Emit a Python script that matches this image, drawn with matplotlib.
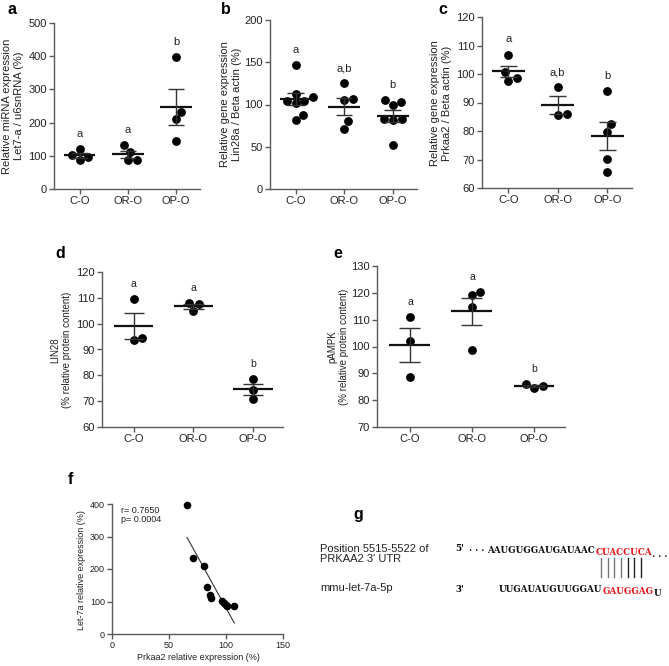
import matplotlib.pyplot as plt
import numpy as np

plt.rcParams['font.family'] = ['Liberation Sans', 'DejaVu Sans']

W, H = 669, 666
groups = ['C-O', 'OR-O', 'OP-O']

# a: Let7-a miRNA (%)
let7_co = [102.6, 120.7, 86.5, 95.6]
let7_or = [112.7, 131.8, 86.5, 86.5]
let7_op = [397.0, 233.0, 210.0, 146.0]
# b: Lin28a mRNA (%)
lin28a_co = [146.7, 113.0, 109.0, 104.5, 102.0, 104.5, 87.6, 81.7]
lin28a_or = [125.0, 106.5, 105.3, 80.5, 70.6]
lin28a_op = [105.3, 100.0, 102.6, 82.4, 81.7, 82.4, 52.0]
# c: Prkaa2 mRNA (%)
prkaa2_co = [106.8, 100.6, 98.5, 97.7]
prkaa2_or = [95.3, 85.7, 86.0]
prkaa2_op = [93.9, 82.5, 79.6, 70.2, 65.7]
# d: LIN28 protein (%)
lin28_co = [109.4, 93.5, 94.3]
lin28_or = [108.0, 107.5, 104.9]
lin28_op = [78.5, 74.5, 71.0]
# e: pAMPK protein (%)
pampk_co = [111.0, 102.0, 88.8]
pampk_or = [119.1, 120.2, 114.8, 98.6]
pampk_op = [86.0, 85.2, 84.6]
# f: correlation
corr_prkaa2 = [65.8, 70.8, 80.4, 83.0, 86.0, 86.5, 96.2, 98.2, 100.0, 101.0, 107.3]
corr_let7 = [397, 233, 209, 145, 119, 112, 102, 95, 89, 87, 85]

SPINE = '#5a5a5a'


def px_axes(fig, x0, y0, x1, y1):
    return fig.add_axes([x0 / W, 1 - y1 / H, (x1 - x0) / W, (y1 - y0) / H])


def style(ax, fs=8):
    for s in ['top', 'right']:
        ax.spines[s].set_visible(False)
    for s in ['left', 'bottom']:
        ax.spines[s].set_color(SPINE)
        ax.spines[s].set_linewidth(1.0)
    ax.tick_params(length=3.5, width=1.0, color=SPINE, labelsize=fs,
                   labelcolor='#222222', pad=1.5)
    ax.set_facecolor('none')


def swarm(ax, i, vals, dot=9.0):
    """greedy beeswarm in pixel space, lowest point first"""
    order = np.argsort(vals)
    pts = ax.transData.transform(np.column_stack([np.full(len(vals), i), vals]))
    placed = []
    offs = np.zeros(len(vals))
    for k in order:
        y = pts[k, 1]
        cands = [0.0]
        for px, py in placed:
            dy = abs(y - py)
            if dy < dot:
                dx = np.sqrt(dot ** 2 - dy ** 2)
                cands += [px - dx, px + dx]
        ok = [c for c in cands
              if all((c - px) ** 2 + (y - py) ** 2 >= dot ** 2 - 1e-6 for px, py in placed)]
        best = min(ok, key=lambda c: (abs(c), -c))
        placed.append((best, y))
        offs[k] = best
    inv = ax.transData.inverted()
    return [inv.transform((pts[0, 0] + d, pts[0, 1]))[0] for d in offs]


def dot_panel(fig, rect, data, ylim, step, letters, fs=8, letter_fs=8):
    ax = px_axes(fig, *rect)
    style(ax, fs)
    ax.set_xlim(-0.53, 2.5)
    ax.set_ylim(*ylim)
    ax.set_yticks(np.arange(ylim[0], ylim[1] + step / 2, step))
    ax.set_xticks(range(3))
    ax.set_xticklabels(groups, fontsize=fs)
    for i, vals in enumerate(data):
        vals = np.asarray(vals, dtype=float)
        m = vals.mean()
        sem = vals.std(ddof=1) / np.sqrt(len(vals))
        xs = swarm(ax, i, vals)
        ax.scatter(xs, vals, s=40, color='black', zorder=3, clip_on=False, linewidths=0)
        ax.hlines(m, i - 0.33, i + 0.33, color='#111111', lw=1.6, zorder=4)
        ax.vlines(i, m - sem, m + sem, color='#333333', lw=1.0, zorder=4)
        ax.hlines([m - sem, m + sem], i - 0.17, i + 0.17, color='#333333', lw=1.0, zorder=4)
        top = max(vals.max(), m + sem)
        ax.annotate(letters[i], (i, top), xytext=(0, 11), textcoords='offset points',
                    ha='center', va='center', fontsize=letter_fs, color='#222222')
    return ax


fig = plt.figure(figsize=(W / 100, H / 100), dpi=100)

dot_panel(fig, (54, 23, 200, 189), [let7_co, let7_or, let7_op], (0, 500), 100, ['a', 'a', 'b'])
dot_panel(fig, (270, 20, 417, 189), [lin28a_co, lin28a_or, lin28a_op], (0, 200), 50, ['a', 'a,b', 'b'])
dot_panel(fig, (482, 17, 632, 188), [prkaa2_co, prkaa2_or, prkaa2_op], (60, 120), 10, ['a', 'a,b', 'b'])
dot_panel(fig, (102, 272, 283, 427), [lin28_co, lin28_or, lin28_op], (60, 120), 10, ['a', 'a', 'b'],
          letter_fs=7.5)
dot_panel(fig, (377, 266, 565, 427), [pampk_co, pampk_or, pampk_op], (70, 130), 10, ['a', 'a', 'b'],
          letter_fs=7.5)

# f: correlation
axf = px_axes(fig, 112, 504, 283, 634)
style(axf, 6.5)
axf.set_xlim(0, 150)
axf.set_ylim(0, 400)
axf.set_xticks([0, 50, 100, 150])
axf.set_yticks([0, 100, 200, 300, 400])
axf.scatter(corr_prkaa2, corr_let7, s=30, color='black', zorder=3, linewidths=0, clip_on=False)
slope, icpt = np.polyfit(corr_prkaa2, corr_let7, 1)
xx = np.array([min(corr_prkaa2), max(corr_prkaa2)])
axf.plot(xx, slope * xx + icpt, color='#333333', lw=0.8)

# overlay for labels and panel g
ov = fig.add_axes([0, 0, 1, 1])
ov.set_xlim(0, W)
ov.set_ylim(H, 0)
ov.axis('off')
ov.set_zorder(10)

for lab, x, y in [('a', 12, 10), ('b', 226, 10), ('c', 443, 10), ('d', 60, 253),
                  ('e', 338, 253), ('f', 70, 480), ('g', 358, 515)]:
    ov.text(x, y, lab, fontsize=11.5, fontweight='bold', ha='center', va='center')

ylabels = [
    ('Relative miRNA expression\nLet7-a / u6snRNA (%)', 13, 106, 8),
    ('Relative gene expression\nLin28a / Beta actin (%)', 231, 104, 8),
    ('Relative gene expression\nPrkaa2 / Beta actin (%)', 441, 103, 8),
    ('LIN28\n(% relative protein content)', 61, 350, 7),
    ('pAMPK\n(% relative protein content)', 338, 347, 7),
    ('Let-7a relative expression (%)', 82, 570, 6.5),
]
for txt, x, y, fs in ylabels:
    ov.text(x, y, txt, rotation=90, ha='center', va='center', fontsize=fs,
            color='#222222', linespacing=1.15, multialignment='center')
ov.text(198, 658, 'Prkaa2 relative expression (%)', ha='center', va='center',
        fontsize=6.5, color='#222222')
ov.text(121, 515, 'r= 0.7650\np= 0.0004', ha='left', va='center', fontsize=6.5,
        color='#222222', linespacing=1.1)

# g: binding site
ov.text(320, 554, 'Position 5515-5522 of\nPRKAA2 3\' UTR', ha='left', va='center',
        fontsize=8, color='#222222', linespacing=1.1)
ov.text(320, 588, 'mmu-let-7a-5p', ha='left', va='center', fontsize=8, color='#222222')

RED = '#e8161b'
seq_kw = dict(fontsize=6.3, fontweight='bold', family='DejaVu Serif', va='baseline', ha='left')
ov.text(455, 551, "5'", **seq_kw)
t = ov.text(469, 551, '. . . ', color='#111111', **seq_kw)
t = ov.annotate('AAUGUGGAUGAUAAC', xy=(1, 0), xycoords=t, color='#111111', **seq_kw)
t = ov.annotate('CUACCUCA', xy=(1, 0), xycoords=t, color=RED, **seq_kw)
ov.annotate('. . .', xy=(1, 0), xycoords=t, color='#111111', **seq_kw)
ov.text(455, 592, "3'", **seq_kw)
t = ov.text(499, 592, 'UUGAUAUGUUGGAU', color='#111111', **seq_kw)
t = ov.annotate('GAUGGAG', xy=(1, 0), xycoords=t, color=RED, **seq_kw)
ov.annotate('U', xy=(1, 0), xycoords=t, color='#111111', **seq_kw)

# base-pairing bars
for k, xb in enumerate(np.linspace(601, 641, 7)):
    ov.plot([xb, xb], [558, 577], color='#777777' if k < 4 else '#222222', lw=1.0)

fig.savefig('out.png', dpi=100)
